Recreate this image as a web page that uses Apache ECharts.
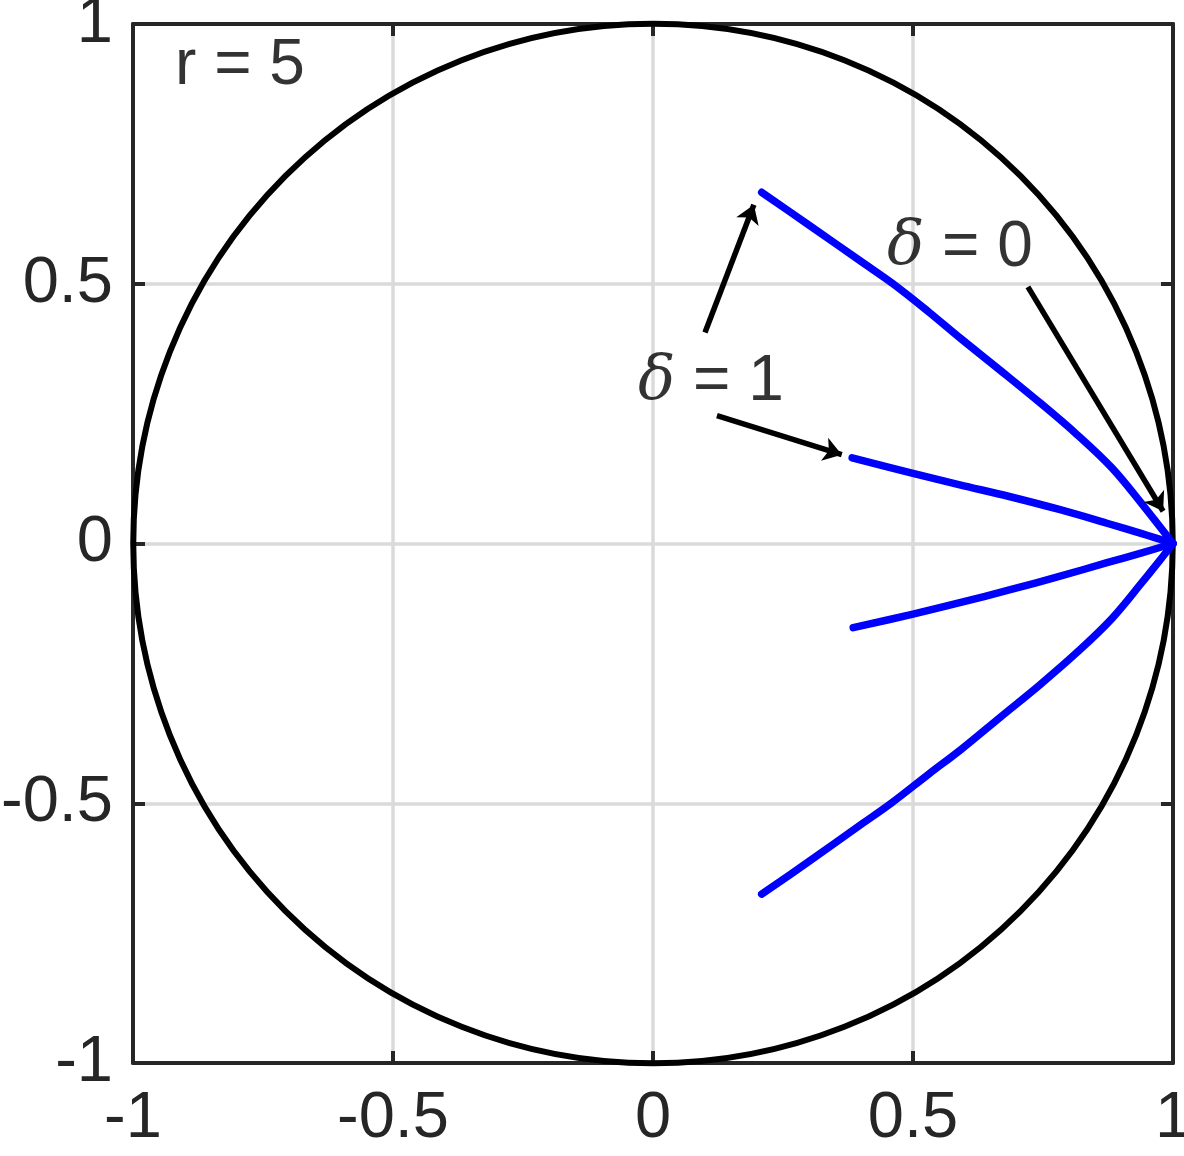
<!DOCTYPE html>
<html>
<head>
<meta charset="utf-8">
<script src="https://cdn.jsdelivr.net/npm/echarts@6/dist/echarts.min.js"></script>
<style>
  html, body { margin: 0; padding: 0; background: #fff; }
  #myChart { width: 1184px; height: 1156px; }
</style>
</head>
<body>
<div id="myChart"></div>
<script>
// tick values for both axes
const ticks = [-1, -0.5, 0, 0.5, 1];

// unit circle: centre x, centre y, radius
const unitCircle = [[0, 0, 1]];

// blue curves ([x, y])
const delta0Upper = [
  [0.209, 0.676], [0.3, 0.613], [0.4, 0.543], [0.4615, 0.5], [0.53, 0.446],
  [0.59, 0.396], [0.667, 0.334], [0.744, 0.271], [0.815, 0.21], [0.883, 0.145],
  [0.942, 0.074], [0.975, 0.032], [1, 0]
];
const delta0Lower = [
  [0.209, -0.675], [0.3, -0.612], [0.4, -0.541], [0.458, -0.5], [0.53, -0.444],
  [0.593, -0.396], [0.667, -0.335], [0.744, -0.272], [0.815, -0.21], [0.882, -0.145],
  [0.942, -0.073], [0.975, -0.032], [1, 0]
];
const delta1Upper = [
  [0.383, 0.165], [0.5, 0.135], [0.59, 0.113], [0.687, 0.09], [0.783, 0.065],
  [0.873, 0.039], [0.94, 0.019], [1, 0]
];
const delta1Lower = [
  [0.385, -0.162], [0.5, -0.136], [0.59, -0.114], [0.687, -0.089], [0.783, -0.063],
  [0.873, -0.037], [0.94, -0.018], [1, 0]
];

// annotation arrows (data coordinates: from -> to)
const arrows = [
  [[0.721, 0.494], [0.981, 0.062]],
  [[0.1, 0.406], [0.194, 0.652]],
  [[0.123, 0.246], [0.363, 0.171]]
];

// text labels: [x, y, text]
const labels = [
  [-0.919, 0.919, 'r'],
  [0.45, 0.569, 'd0'],
  [-0.029, 0.31, 'd1']
];

let myChart = echarts.init(document.getElementById("myChart"));

const tickFont = {
  color: "#262626",
  fontFamily: "Liberation Sans, Arial, sans-serif",
  fontSize: 65
};

const boxLine = { show: true, onZero: false, lineStyle: { color: "#262626", width: 4 } };
const boxTick = { show: true, inside: true, length: 12, lineStyle: { color: "#262626", width: 4 } };
const gridLine = { show: true, lineStyle: { color: "#dadada", width: 3.5 } };

function curve(data) {
  return {
    type: "line",
    data: data,
    showSymbol: false,
    symbol: "none",
    silent: true,
    smooth: 0.35,
    lineStyle: { color: "#0000ff", width: 7.5, cap: "round", join: "round" },
    z: 5
  };
}

myChart.setOption({
  animation: false,
  grid: { left: 133, right: 11, top: 24, bottom: 93, outerBoundsMode: "none", containLabel: false },
  xAxis: [
    {
      type: "value",
      min: -1, max: 1, interval: 0.5,
      axisLine: boxLine,
      axisTick: boxTick,
      splitLine: gridLine,
      axisLabel: Object.assign({ margin: 24 }, tickFont)
    },
    {
      type: "value", position: "top",
      min: -1, max: 1, interval: 0.5,
      axisLine: boxLine,
      axisTick: boxTick,
      splitLine: { show: false },
      axisLabel: { show: false }
    }
  ],
  yAxis: [
    {
      type: "value",
      min: -1, max: 1, interval: 0.5,
      axisLine: boxLine,
      axisTick: boxTick,
      splitLine: gridLine,
      axisLabel: Object.assign({ margin: 20 }, tickFont)
    },
    {
      type: "value", position: "right",
      min: -1, max: 1, interval: 0.5,
      axisLine: boxLine,
      axisTick: boxTick,
      splitLine: { show: false },
      axisLabel: { show: false }
    }
  ],
  series: [
    {
      // unit circle
      type: "custom",
      data: unitCircle,
      clip: false,
      silent: true,
      z: 4,
      renderItem: function (params, api) {
        let c = api.coord([api.value(0), api.value(1)]);
        let r = api.size([api.value(2), api.value(2)]);
        return {
          type: "circle",
          shape: { cx: c[0], cy: c[1], r: (r[0] + r[1]) / 2 },
          style: { fill: "none", stroke: "#000", lineWidth: 6 }
        };
      }
    },
    curve(delta0Upper),
    curve(delta0Lower),
    curve(delta1Upper),
    curve(delta1Lower),
    {
      type: "lines",
      coordinateSystem: "cartesian2d",
      silent: true,
      z: 6,
      symbol: ["none", "arrow"],
      symbolSize: [0, 18],
      lineStyle: { color: "#000", width: 5.5, opacity: 1 },
      data: arrows.map(function (a) { return { coords: a }; })
    },
    {
      type: "scatter",
      symbolSize: 0,
      silent: true,
      z: 7,
      data: labels,
      label: {
        show: true,
        position: "right",
        distance: 0,
        formatter: function (p) {
          let t = p.data[2];
          if (t === "r") return "{s|r = 5}";
          if (t === "d0") return "{d|δ}{s| = 0}";
          return "{d|δ}{s| = 1}";
        },
        rich: {
          s: { fontFamily: "Liberation Sans, Arial, sans-serif", fontSize: 64, color: "#000" },
          d: { fontFamily: "DejaVu Serif, Liberation Serif, serif", fontStyle: "italic", fontSize: 62, color: "#000" }
        }
      }
    }
  ]
});
</script>
</body>
</html>
